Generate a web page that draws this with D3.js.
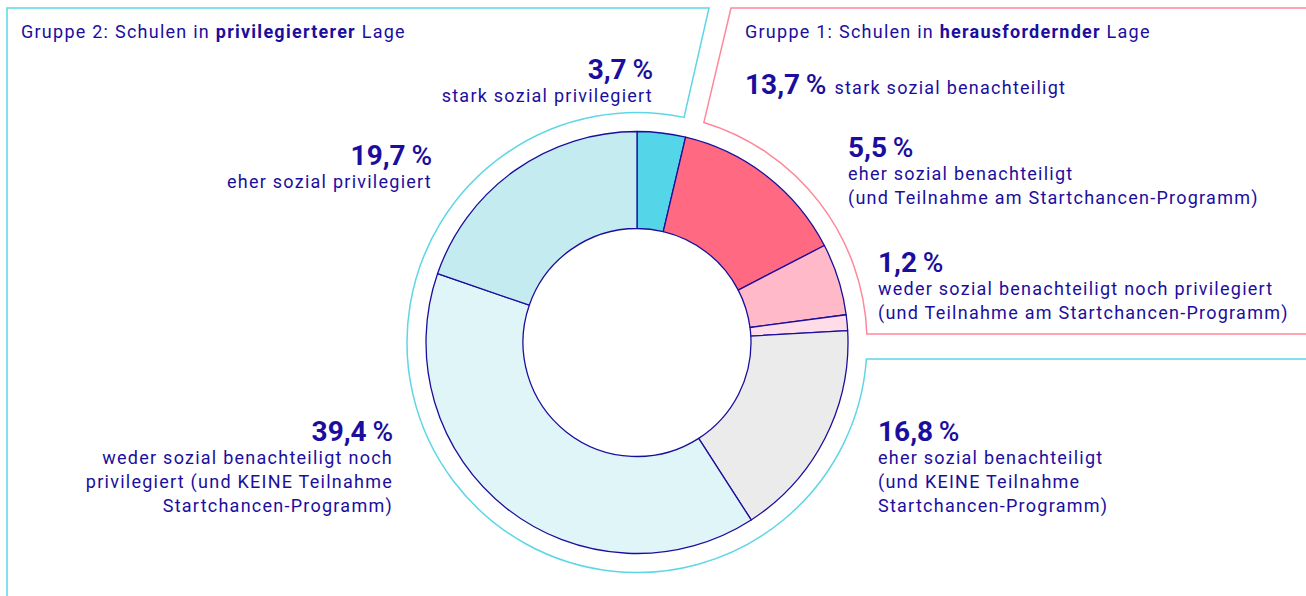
<!DOCTYPE html>
<html>
<head>
<meta charset="utf-8">
<script src="https://cdn.jsdelivr.net/npm/d3@7"></script>
<style>
  body { margin: 0; background: #fff; }
  svg { display: block; font-family: Roboto, "Noto Sans", sans-serif; }
  .small { letter-spacing: 1.25px; }
</style>
</head>
<body>
<div id="chart"></div>
<script>
"use strict"

// shares of schools, clockwise from 12 o'clock
const shares = [3.7, 13.7, 5.5, 1.2, 16.8, 39.4, 19.7];
const labels = [
  ["stark sozial privilegiert"],
  ["stark sozial benachteiligt"],
  ["eher sozial benachteiligt", "(und Teilnahme am Startchancen-Programm)"],
  ["weder sozial benachteiligt noch privilegiert", "(und Teilnahme am Startchancen-Programm)"],
  ["eher sozial benachteiligt", "(und KEINE Teilnahme", "Startchancen-Programm)"],
  ["weder sozial benachteiligt noch", "privilegiert (und KEINE Teilnahme", "Startchancen-Programm)"],
  ["eher sozial privilegiert"]
];
const sliceColors = ["#55d6e8", "#ff6a82", "#ffb9c9", "#ffdde8", "#ebebeb", "#e0f5f8", "#c4ecf0"];
const groupTitles = [
  ["Gruppe 2: Schulen in ", "privilegierterer", " Lage"],
  ["Gruppe 1: Schulen in ", "herausfordernder", " Lage"]
];

let ink = "#1b0e9e";
let width = 1306, height = 596;
let cx = 637, cy = 342.5;
let rOuter = 211, rInner = 114, rFrame = 230;
let bodySize = 18;

// label layout: anchor point, alignment, inline (label on the same line)
let labelLayout = [
  {x: 653, y: 79, anchor: "end"},
  {x: 745, y: 94, anchor: "start", inline: true},
  {x: 848, y: 157, anchor: "start"},
  {x: 878, y: 272, anchor: "start"},
  {x: 878, y: 441, anchor: "start"},
  {x: 393, y: 441, anchor: "end"},
  {x: 432, y: 165, anchor: "end"}
];

let locale = d3.formatLocale({decimal: ",", thousands: ".", grouping: [3], currency: ["", "€"]});
let fmt = locale.format(".1f");

let svg = d3.select("#chart").append("svg")
            .attr("width", width)
            .attr("height", height);

// frames around both groups
function toAngle(deg)
{
  return deg * Math.PI / 180 - Math.PI / 2;
}
let redEnd = Math.acos((cy - 334) / rFrame) * 180 / Math.PI;
let cyanEnd = Math.acos((cy - 359) / rFrame) * 180 / Math.PI;

let cyanPath = d3.path();
cyanPath.moveTo(7, height + 10);
cyanPath.lineTo(7, 8);
cyanPath.lineTo(709, 8);
cyanPath.arc(cx, cy, rFrame, toAngle(11.8), toAngle(cyanEnd), true);
cyanPath.lineTo(width + 10, 359);

let redPath = d3.path();
redPath.moveTo(width + 10, 8);
redPath.lineTo(731, 8);
redPath.arc(cx, cy, rFrame, toAngle(16.9), toAngle(redEnd), false);
redPath.lineTo(width + 10, 334);

svg.append("path")
   .attr("d", cyanPath.toString())
   .attr("fill", "none")
   .attr("stroke", "#5dd6e6")
   .attr("stroke-width", 1.5);

svg.append("path")
   .attr("d", redPath.toString())
   .attr("fill", "none")
   .attr("stroke", "#ff8799")
   .attr("stroke-width", 1.5);

// donut
let pie = d3.pie().sort(null).value(d => d);
let arc = d3.arc().innerRadius(rInner).outerRadius(rOuter);

svg.append("g")
   .attr("transform", "translate(" + cx + "," + cy + ")")
   .selectAll("path")
   .data(pie(shares))
   .join("path")
   .attr("d", arc)
   .attr("fill", (d, i) => sliceColors[i])
   .attr("stroke", ink)
   .attr("stroke-width", 1.3)
   .attr("stroke-linejoin", "round");

// group titles
let titlePos = [{x: 21, y: 38}, {x: 745, y: 38}];
groupTitles.forEach(function(parts, i){
  let t = svg.append("text")
             .attr("class", "small")
             .attr("x", titlePos[i].x)
             .attr("y", titlePos[i].y)
             .attr("fill", ink)
             .attr("font-size", bodySize);
  parts.forEach(function(p, j){
    t.append("tspan")
     .attr("font-weight", j === 1 ? 700 : 400)
     .text(p);
  });
});

// value labels
shares.forEach(function(v, i){
  let pos = labelLayout[i];
  let g = svg.append("g").attr("fill", ink).attr("text-anchor", pos.anchor);
  let big = g.append("text")
             .attr("x", pos.x)
             .attr("y", pos.y)
             .attr("font-size", 28)
             .attr("font-weight", 700);
  big.append("tspan").text(fmt(v) + "\u2009");
  big.append("tspan").attr("font-weight", 500).text("%");
  if(pos.inline)
  {
    let w = big.node().getComputedTextLength();
    g.append("text")
     .attr("class", "small")
     .attr("x", pos.x + w + 8)
     .attr("y", pos.y)
     .attr("font-size", bodySize)
     .text(labels[i][0]);
    return;
  }
  labels[i].forEach(function(line, k){
    g.append("text")
     .attr("class", "small")
     .attr("x", pos.x)
     .attr("y", pos.y + 23 + k * 24)
     .attr("font-size", bodySize)
     .text(line);
  });
});
</script>
</body>
</html>
